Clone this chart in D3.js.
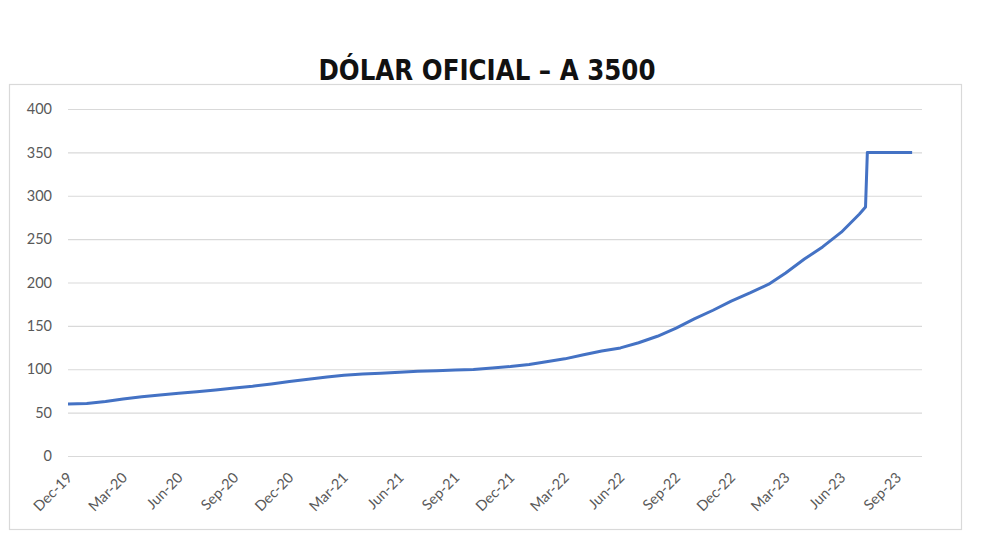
<!DOCTYPE html>
<html>
<head>
<meta charset="utf-8">
<script src="https://cdn.jsdelivr.net/npm/d3@7"></script>
<style>
  html, body { margin: 0; padding: 0; background: #fff; }
  svg { display: block; }
</style>
</head>
<body>
<svg id="chart" width="981" height="546"></svg>
<script>
const title = "DÓLAR OFICIAL – A 3500";

const dates = [
  "2019-12-01","2020-01-01","2020-02-01","2020-03-01","2020-04-01","2020-05-01","2020-06-01",
  "2020-07-01","2020-08-01","2020-09-01","2020-10-01","2020-11-01","2020-12-01",
  "2021-01-01","2021-02-01","2021-03-01","2021-04-01","2021-05-01","2021-06-01",
  "2021-07-01","2021-08-01","2021-09-01","2021-10-01","2021-11-01","2021-12-01",
  "2022-01-01","2022-02-01","2022-03-01","2022-04-01","2022-05-01","2022-06-01",
  "2022-07-01","2022-08-01","2022-09-01","2022-10-01","2022-11-01","2022-12-01",
  "2023-01-01","2023-02-01","2023-03-01","2023-04-01","2023-05-01","2023-06-01",
  "2023-07-01","2023-07-11","2023-07-14","2023-09-26"
];
const values = [
  59.8, 60.5, 62.7, 65.7, 68.3, 70.4, 72.2,
  74.0, 76.0, 78.3, 80.4, 83.1, 86.0,
  88.4, 91.1, 93.2, 94.5, 95.5, 96.6,
  97.6, 98.4, 99.0, 99.8, 101.5, 103.2,
  105.5, 108.9, 112.0, 116.8, 121.0, 124.6,
  130.5, 138.0, 147.5, 158.0, 168.0, 178.6,
  188.0, 198.0, 211.0, 227.0, 241.0, 258.0,
  279.0, 287.0, 350.0, 350.0
];
const xTickDates = [
  "2019-12-01","2020-03-01","2020-06-01","2020-09-01","2020-12-01",
  "2021-03-01","2021-06-01","2021-09-01","2021-12-01",
  "2022-03-01","2022-06-01","2022-09-01","2022-12-01",
  "2023-03-01","2023-06-01","2023-09-01"
];
const yTicks = [0, 50, 100, 150, 200, 250, 300, 350, 400];

const parse = d3.utcParse("%Y-%m-%d");
const fmt = d3.utcFormat("%b-%y");
const data = dates.map((d, i) => ({ date: parse(d), value: values[i] }));

const svg = d3.select("#chart");

// frame
svg.append("rect")
  .attr("x", 9.5).attr("y", 84.5)
  .attr("width", 952).attr("height", 445)
  .attr("fill", "#fff")
  .attr("stroke", "#d9d9d9").attr("stroke-width", 1.2);

// title
svg.append("text")
  .attr("x", 487).attr("y", 80)
  .attr("text-anchor", "middle")
  .attr("font-family", "'DejaVu Sans', Verdana, sans-serif")
  .attr("font-weight", "bold")
  .attr("font-size", 29)
  .attr("fill", "#111")
  .attr("textLength", 337)
  .attr("lengthAdjust", "spacingAndGlyphs")
  .text(title);

const x = d3.scaleUtc()
  .domain([parse("2019-12-01"), parse("2023-09-01")])
  .range([68, 897]);
const y = d3.scaleLinear().domain([0, 400]).range([456, 109]);

const font = "Lato, 'Open Sans', sans-serif";

// gridlines
const gy = svg.append("g")
  .attr("transform", "translate(68,0)")
  .call(d3.axisLeft(y).tickValues(yTicks).tickSize(-854).tickPadding(16));
gy.select(".domain").remove();
gy.selectAll(".tick line").attr("stroke", "#d9d9d9").attr("stroke-width", 1.2);
gy.selectAll(".tick text")
  .attr("font-family", font).attr("font-size", 14.5)
  .attr("fill", "#595959");

// x labels
const gx = svg.append("g").attr("transform", "translate(0,456)")
  .call(d3.axisBottom(x).tickValues(xTickDates.map(parse)).tickFormat(fmt).tickSize(0));
gx.select(".domain").remove();
gx.selectAll(".tick text")
  .attr("font-family", font).attr("font-size", 14.5)
  .attr("fill", "#595959")
  .attr("text-anchor", "end")
  .attr("x", 0).attr("y", 0).attr("dy", "0.35em")
  .attr("transform", "translate(1,19) rotate(-45)");

// line
const line = d3.line()
  .x(d => x(d.date))
  .y(d => y(d.value));

svg.append("path")
  .datum(data)
  .attr("fill", "none")
  .attr("stroke", "#4472c4")
  .attr("stroke-width", 3)
  .attr("stroke-linejoin", "round")
  .attr("d", line);
</script>
</body>
</html>
